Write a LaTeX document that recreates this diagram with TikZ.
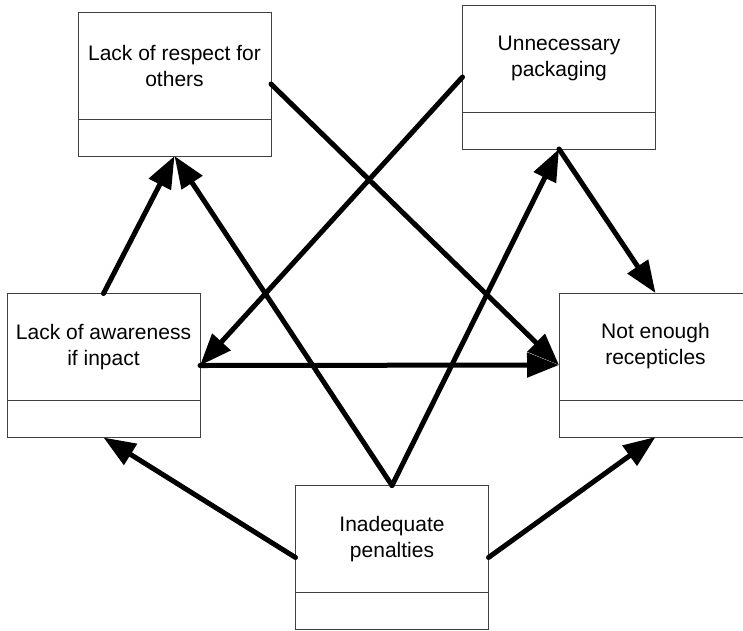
\documentclass[tikz,border=0pt]{standalone}
\usepackage{fontspec}
\setmainfont{Liberation Sans}
\usetikzlibrary{arrows.meta}

\begin{document}
\begin{tikzpicture}[x=1pt, y=-1pt,
  cause/.style={draw=black!75, line width=0.9pt, fill=white,
                minimum width=193pt, minimum height=144pt,
                inner sep=0pt, outer sep=0pt,
                path picture={\draw[black!75, line width=0.9pt]
                  ([yshift=37pt]path picture bounding box.south west) --
                  ([yshift=37pt]path picture bounding box.south east);}},
  txt/.style={align=center, font=\fontsize{21}{26}\selectfont, yshift=18.5pt},
  link/.style={line width=5pt, line cap=round,
               -{Triangle[length=32pt, width=24pt]}}]
\useasboundingbox (0,0) rectangle (743,630);
\node[cause, label={[txt]center:{Lack of respect for\\others}}] (resp) at (174.5,84) {};
\node[cause, label={[txt]center:{Unnecessary\\packaging}}] (pack) at (559,77) {};
\node[cause, label={[txt]center:{Lack of awareness\\if inpact}}] (aware) at (103.5,365.5) {};
\node[cause, label={[txt]center:{Not enough\\recepticles}}] (recep) at (655.5,365) {};
\node[cause, label={[txt]center:{Inadequate\\penalties}}] (pen) at (392,557.5) {};
\draw[link] (aware.north) -- (resp.south);
\draw[link] (pen.north) -- (resp.south);
\draw[link] (pen.north) -- (pack.south);
\draw[link] (pen.west) -- (aware.south);
\draw[link] (pen.east) -- (recep.south);
\draw[link] (pack.south) -- (recep.north);
\draw[link] (resp.east) -- (recep.west);
\draw[link] (pack.west) -- (aware.east);
\draw[link] (aware.east) -- (recep.west);
\end{tikzpicture}
\end{document}
